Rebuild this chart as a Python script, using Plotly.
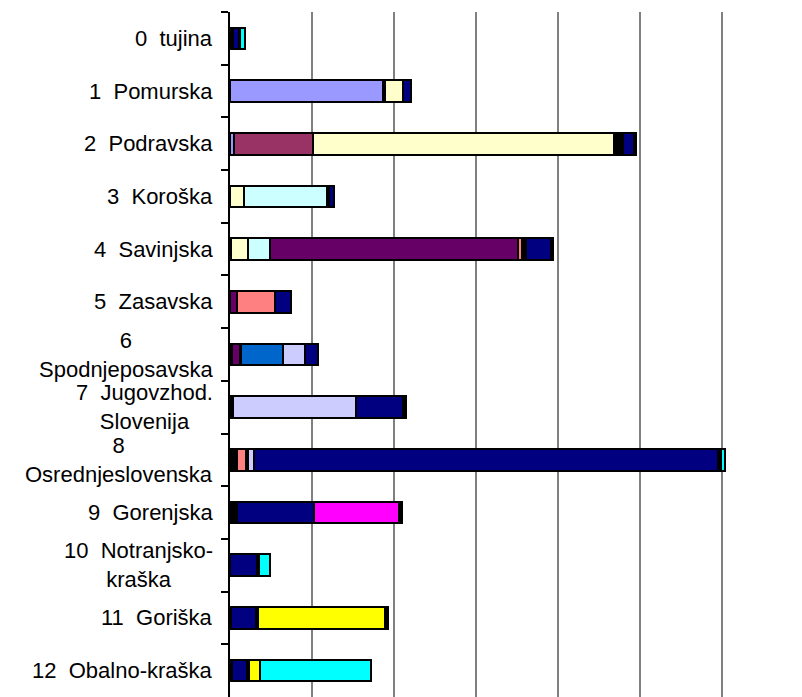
import plotly.graph_objects as go

categories = [
    "0  tujina",
    "1  Pomurska",
    "2  Podravska",
    "3  Koroška",
    "4  Savinjska",
    "5  Zasavska",
    "6<br>Spodnjeposavska",
    "7  Jugovzhod.<br>Slovenija",
    "8<br>Osrednjeslovenska",
    "9  Gorenjska",
    "10  Notranjsko-<br>kraška",
    "11  Goriška",
    "12  Obalno-kraška",
]

s1 = [0, 1866, 43, 0, 6, 0, 10, 10, 15, 10, 0, 0, 0]
s2 = [12, 25, 964, 0, 10, 0, 10, 10, 20, 0, 0, 0, 0]
s3 = [0, 220, 3678, 165, 201, 0, 0, 0, 15, 0, 0, 0, 0]
s4 = [0, 0, 24, 1019, 268, 0, 0, 0, 15, 0, 0, 0, 0]
s5 = [12, 0, 24, 6, 3032, 85, 98, 10, 22, 20, 0, 0, 0]
s6 = [0, 0, 18, 6, 45, 458, 10, 12, 110, 20, 0, 10, 0]
s7 = [12, 0, 18, 6, 22, 5, 519, 0, 20, 15, 0, 0, 10]
s8 = [0, 0, 21, 0, 22, 5, 262, 1500, 73, 15, 0, 8, 10]
s9 = [73, 95, 132, 61, 313, 189, 165, 573, 5656, 946, 325, 299, 190]
s10 = [6, 0, 12, 6, 12, 0, 0, 15, 22, 1031, 16, 22, 20]
s11 = [8, 0, 10, 0, 8, 0, 0, 0, 22, 22, 16, 1555, 140]
s12 = [55, 0, 9, 0, 5, 0, 0, 12, 52, 14, 128, 18, 1348]
s13 = [0, 0, 0, 0, 0, 0, 0, 10, 0, 10, 0, 18, 0]

series = [s1, s2, s3, s4, s5, s6, s7, s8, s9, s10, s11, s12, s13]
colors = ["#9999FF", "#993366", "#FFFFCC", "#CCFFFF", "#660066", "#FF8080",
          "#0066CC", "#CCCCFF", "#000080", "#FF00FF", "#FFFF00", "#00FFFF",
          "#800000"]

fig = go.Figure()
for i, (vals, col) in enumerate(zip(series, colors)):
    fig.add_trace(go.Bar(
        x=vals, y=categories, orientation="h", name=f"Serija {i+1}",
        marker=dict(color=col, line=dict(color="black", width=2)),
        width=0.41,
    ))

for cat in categories:
    fig.add_annotation(
        x=0, xref="paper", y=cat, yref="y", text=cat, showarrow=False,
        xanchor="right", yanchor="middle", align="center", xshift=-15,
        font=dict(family="Liberation Sans, Arial, sans-serif", size=22, color="black"),
    )

# page body has an 8px default margin, so the figure is offset by 8px
fig.update_layout(
    barmode="stack",
    width=794, height=689,
    margin=dict(l=222, r=0, t=4, b=0),
    plot_bgcolor="white", paper_bgcolor="white",
    showlegend=False,
    bargap=0,
    font=dict(family="Liberation Sans, Arial, sans-serif", size=22, color="black"),
)
fig.update_xaxes(
    range=[0, 6976], dtick=1000, showticklabels=False,
    showgrid=True, gridcolor="#808080", gridwidth=1.5,
    zeroline=False, showline=False,
)
fig.update_yaxes(
    type="category", autorange="reversed", showticklabels=False,
    tickson="boundaries", ticks="outside", ticklen=7, tickcolor="black", tickwidth=1.5,
    showline=True, linecolor="black", linewidth=2, showgrid=False,
)

fig.write_html("out.html")
